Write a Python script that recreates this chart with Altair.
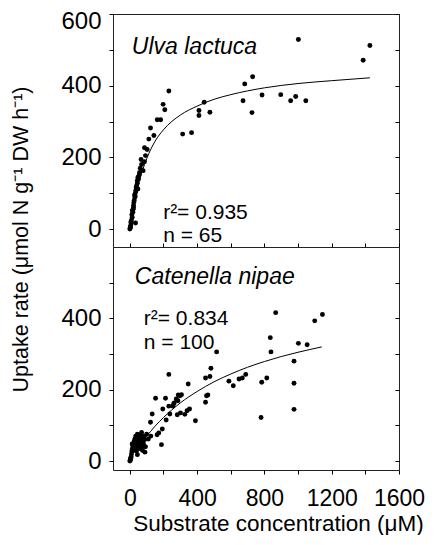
import altair as alt
import pandas as pd

FONT = "Liberation Sans"

# ---- Ulva lactuca (top panel) ----
ulva_s = [1002, 1427, 1387, 730, 683, 786, 897, 956, 986, 1046, 673, 726, 442, 411, 411, 476,
          314, 367, 232, 198, 208, 163, 183, 123, 143, 113, 87, 103, 93, 67, 87, 79, 58, 48,
          44, 38, 48, 34, 30, 24, 22, 18, 14, 34, 8, 4, 0,
          2, 5, 6, 10, 12, 15, 20, 22, 26, 28, 32, 36, 40, 45, 52, 55, 62, 70]
ulva_v = [529, 512, 471, 425, 405, 374, 375, 358, 370, 358, 358, 325, 354, 331, 317, 326,
          265, 269, 385, 348, 333, 305, 305, 282, 261, 251, 227, 222, 205, 194, 188, 163, 158, 144,
          135, 116, 112, 102, 88, 74, 60, 47, 33, 17, 17, 5, 0,
          3, 10, 20, 25, 40, 52, 55, 66, 80, 95, 92, 108, 120, 128, 140, 150, 170, 180]
ulva_fit_s = [10, 25, 50, 75, 100, 150, 200, 300, 400, 500, 600, 800, 1000, 1200, 1427]
ulva_fit_v = [32, 72, 124, 163, 196, 245, 277, 318, 343, 362, 375, 394, 406, 414, 422]

# ---- Catenella nipae (bottom panel) ----
cat_s = [867, 1145, 1099, 835, 839, 1002, 1054, 516, 976, 482, 450, 476, 589, 615, 649, 669,
         689, 784, 814, 976, 780, 976, 232, 347, 464, 450, 390, 307, 298, 276, 264, 286, 212,
         153, 196, 238, 232, 256, 216, 193, 172, 162, 188, 133, 123, 282, 301, 327, 340, 355,
         288, 260, 456, 0, 4, 14,
         3, 5, 8, 10, 12, 15, 18, 20, 22, 25, 28, 30, 32, 35, 38, 40, 42, 45, 48, 50, 52, 55,
         58, 60, 62, 65, 68, 70, 72, 75, 78, 80, 82, 85, 88, 90, 45, 60, 35, 55,
         110, 100, 125, 93]
cat_v = [416, 411, 393, 346, 306, 330, 326, 306, 280, 260, 233, 237, 224, 211, 230, 233,
         243, 221, 233, 218, 122, 145, 243, 216, 185, 165, 113, 186, 183, 174, 163, 169, 176,
         176, 146, 132, 154, 154, 115, 90, 79, 74, 46, 132, 109, 130, 135, 131, 141, 146,
         185, 160, 183, 0, 6, 48,
         2, 8, 12, 20, 28, 35, 42, 30, 48, 55, 38, 62, 45, 70, 52, 28, 60, 75, 40, 65, 68, 50,
         72, 35, 55, 58, 45, 80, 62, 30, 70, 50, 68, 40, 60, 25, 18, 55, 30, 48,
         62, 75, 70, 40]
cat_fit_s = [79, 100, 150, 200, 300, 400, 500, 600, 700, 800, 900, 1000, 1141]
cat_fit_v = [60, 70, 98, 122, 163, 195, 222, 244, 263, 279, 293, 305, 320]

# annotations (label, x in µM, y in rate units)
ulva_name = ["Ulva lactuca"]
ulva_name_pos = [(12, 489)]
ulva_stats = ["r²= 0.935", "n = 65"]
ulva_stats_pos = [(198, 28), (198, -35)]
cat_name = ["Catenella nipae"]
cat_name_pos = [(30, 495)]
cat_stats = ["r²= 0.834", "n = 100"]
cat_stats_pos = [(83, 381), (83, 314)]

x_ticks = list(range(0, 1601, 200))
top_y_ticks = list(range(0, 601, 100))
bot_y_ticks = list(range(0, 501, 100))

x_scale = alt.Scale(domain=[-100, 1600], nice=False, zero=False)
top_y_scale = alt.Scale(domain=[-50, 600], nice=False, zero=False)
bot_y_scale = alt.Scale(domain=[-25, 600], nice=False, zero=False)

W = 286


def notes_df(labels, pos):
    return pd.DataFrame({"label": labels, "s": [p[0] for p in pos], "v": [p[1] for p in pos]})


def panel(s, v, fs, fv, name, name_pos, stats, stats_pos, yscale, yvals, height, bottom):
    ylab = "datum.value % 200 == 0 ? datum.label : ''"
    if bottom:
        xaxis = alt.Axis(values=x_ticks, format="d",
                         labelExpr="datum.value % 400 == 0 ? datum.label : ''",
                         labelFlush=False, tickSize=4, labelPadding=13, labelFontSize=23,
                         title="Substrate concentration (μM)", titleFontSize=22.5,
                         titleX=165, titleY=60, titleBaseline="alphabetic")
        yaxis = alt.Axis(values=yvals, format="d", labelExpr=ylab, tickSize=4,
                         labelPadding=8, labelFontSize=24, title=None)
    else:
        xaxis = alt.Axis(values=x_ticks, labels=False, tickSize=4, offset=-4, title=None)
        yaxis = alt.Axis(values=yvals, format="d", labelExpr=ylab, tickSize=4,
                         labelPadding=8, labelFontSize=24, labelFlush=True,
                         labelFlushOffset=5,
                         title="Uptake rate (μmol N g⁻¹ DW h⁻¹)", titleFontSize=21.5,
                         titleX=-86, titleY=225, titleBaseline="alphabetic")
    yaxis_r = alt.Axis(orient="right", values=yvals, labels=False, tickSize=4,
                       offset=-4, title=None)

    pts = alt.Chart(pd.DataFrame({"s": s, "v": v})).mark_circle(
        size=24, color="black", opacity=1).encode(
        x=alt.X("s:Q", scale=x_scale, axis=xaxis),
        y=alt.Y("v:Q", scale=yscale, axis=yaxis))
    fit = alt.Chart(pd.DataFrame({"s": fs, "v": fv})).mark_line(
        color="black", strokeWidth=1, interpolate="monotone").encode(
        x=alt.X("s:Q", scale=x_scale, axis=xaxis),
        y=alt.Y("v:Q", scale=yscale, axis=yaxis_r))
    nm = alt.Chart(notes_df(name, name_pos)).mark_text(
        align="left", baseline="alphabetic", fontSize=23, fontStyle="italic",
        font=FONT, color="black").encode(
        x=alt.X("s:Q", scale=x_scale, axis=xaxis),
        y=alt.Y("v:Q", scale=yscale, axis=None), text="label:N")
    st = alt.Chart(notes_df(stats, stats_pos)).mark_text(
        align="left", baseline="alphabetic", fontSize=21, font=FONT,
        color="black").encode(
        x=alt.X("s:Q", scale=x_scale, axis=xaxis),
        y=alt.Y("v:Q", scale=yscale, axis=None), text="label:N")
    return alt.layer(pts, fit, nm, st).resolve_axis(y="independent").properties(
        width=W, height=height)


top = panel(ulva_s, ulva_v, ulva_fit_s, ulva_fit_v, ulva_name, ulva_name_pos,
            ulva_stats, ulva_stats_pos, top_y_scale, top_y_ticks, 233, False)
bot = panel(cat_s, cat_v, cat_fit_s, cat_fit_v, cat_name, cat_name_pos,
            cat_stats, cat_stats_pos, bot_y_scale, bot_y_ticks, 223, True)

chart = alt.vconcat(top, bot, spacing=0, bounds="flush").configure_view(
    stroke="#222", strokeWidth=1
).configure_axis(
    labelFont=FONT, titleFont=FONT, labelColor="black", titleColor="black",
    tickColor="black", grid=False, domain=False, titleFontWeight="normal"
).properties(padding={"left": 1, "top": 0, "right": 0, "bottom": 0})

chart.save("out.html", embed_options={"renderer": "svg", "actions": False})
